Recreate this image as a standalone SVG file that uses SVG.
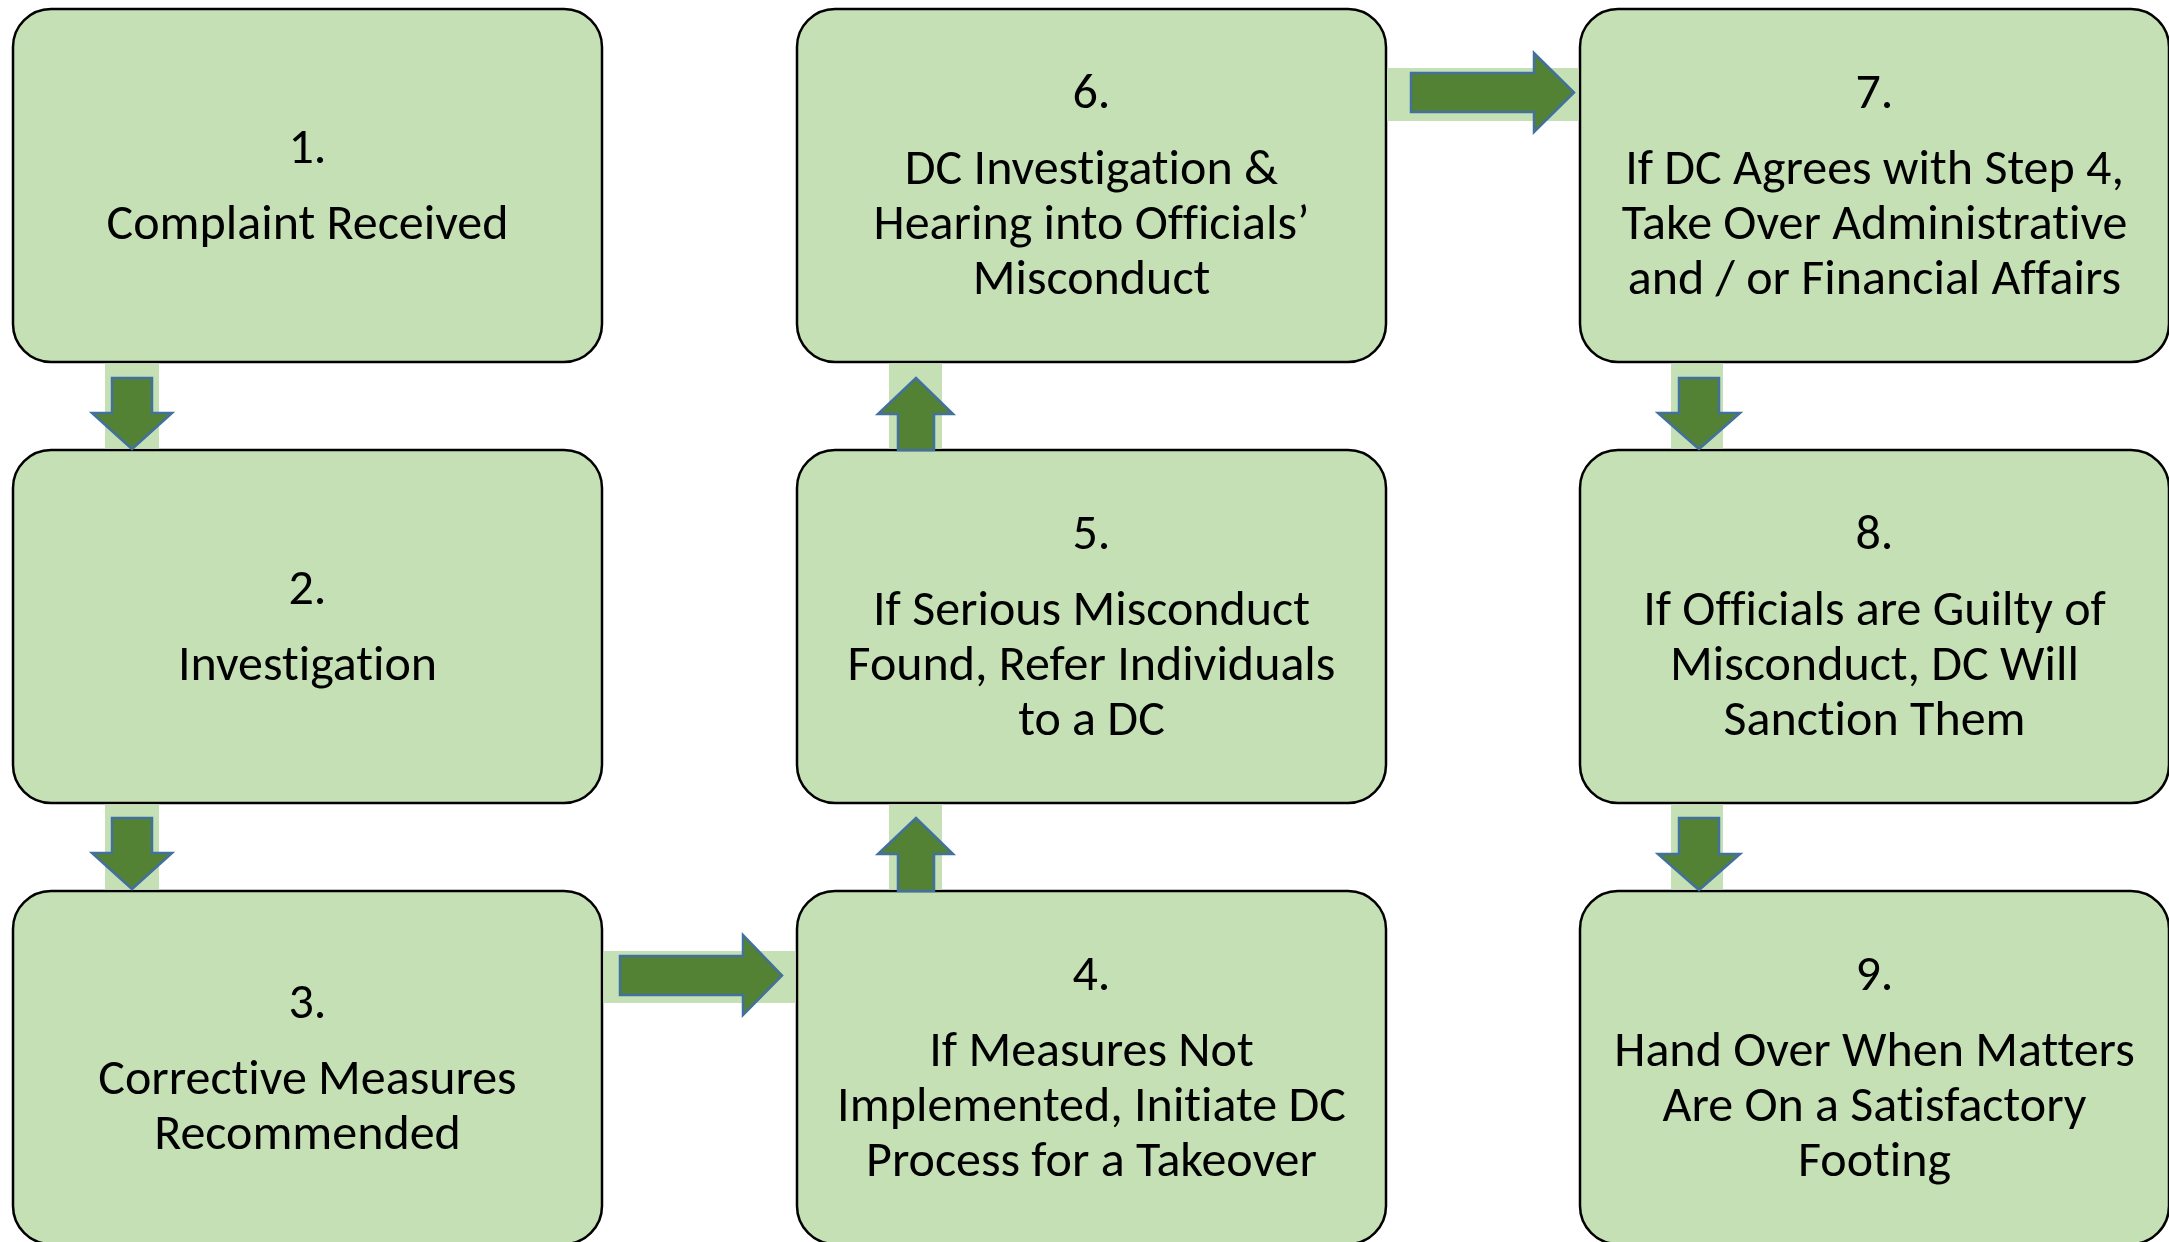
<svg xmlns="http://www.w3.org/2000/svg" width="2169" height="1242" viewBox="0 0 2169 1242">
<style>
.box{fill:#C5E0B4;stroke:#000;stroke-width:2.5}
.band{fill:#C5E0B4}
.arr{fill:#548235;stroke:#41719C;stroke-width:2.5;stroke-linejoin:miter}
text{font-family:Carlito,Lato,"Liberation Sans",sans-serif;font-size:50px;fill:#000;text-anchor:middle;font-variant-ligatures:none}
</style>
<rect width="2169" height="1242" fill="#fff"/>
<g id="nodes">
<g id="n1"><rect class="box" x="13" y="9" width="589" height="353" rx="38"/>
<text x="307.5" y="163">1.</text><text x="307.5" y="239">Complaint Received</text></g>
<g id="n2"><rect class="box" x="13" y="450" width="589" height="353" rx="38"/>
<text x="307.5" y="604">2.</text><text x="307.5" y="680">Investigation</text></g>
<g id="n3"><rect class="box" x="13" y="891" width="589" height="353" rx="38"/>
<text x="307.5" y="1017.5">3.</text><text x="307.5" y="1093.5">Corrective Measures</text><text x="307.5" y="1148.5">Recommended</text></g>
<g id="n4"><rect class="box" x="797" y="891" width="589" height="353" rx="38"/>
<text x="1091.5" y="990">4.</text><text x="1091.5" y="1066">If Measures Not</text><text x="1091.5" y="1121">Implemented, Initiate DC</text><text x="1091.5" y="1176">Process for a Takeover</text></g>
<g id="n5"><rect class="box" x="797" y="450" width="589" height="353" rx="38"/>
<text x="1091.5" y="549">5.</text><text x="1091.5" y="625">If Serious Misconduct</text><text x="1091.5" y="680">Found, Refer Individuals</text><text x="1091.5" y="735">to a DC</text></g>
<g id="n6"><rect class="box" x="797" y="9" width="589" height="353" rx="38"/>
<text x="1091.5" y="108">6.</text><text x="1091.5" y="184">DC Investigation &amp;</text><text x="1091.5" y="239">Hearing into Officials’</text><text x="1091.5" y="294">Misconduct</text></g>
<g id="n7"><rect class="box" x="1580" y="9" width="589" height="353" rx="38"/>
<text x="1874.5" y="108">7.</text><text x="1874.5" y="184">If DC Agrees with Step 4,</text><text x="1874.5" y="239">Take Over Administrative</text><text x="1874.5" y="294">and / or Financial Affairs</text></g>
<g id="n8"><rect class="box" x="1580" y="450" width="589" height="353" rx="38"/>
<text x="1874.5" y="549">8.</text><text x="1874.5" y="625">If Officials are Guilty of</text><text x="1874.5" y="680">Misconduct, DC Will</text><text x="1874.5" y="735">Sanction Them</text></g>
<g id="n9"><rect class="box" x="1580" y="891" width="589" height="353" rx="38"/>
<text x="1874.5" y="990">9.</text><text x="1874.5" y="1066">Hand Over When Matters</text><text x="1874.5" y="1121">Are On a Satisfactory</text><text x="1874.5" y="1176">Footing</text></g>
</g>
<g id="connectors">
<rect class="band" x="105" y="363.5" width="54" height="85"/>
<rect class="band" x="105" y="804.5" width="54" height="85"/>
<rect class="band" x="889" y="363.5" width="53" height="85"/>
<rect class="band" x="889" y="804.5" width="53" height="85"/>
<rect class="band" x="1671" y="363.5" width="52" height="85"/>
<rect class="band" x="1671" y="804.5" width="52" height="85"/>
<rect class="band" x="603.5" y="951" width="192" height="52"/>
<rect class="band" x="1387" y="68" width="191.5" height="53"/>
<path class="arr" d="M112,378 H152 V413 H172 L132,449 L92,413 H112 Z"/>
<path class="arr" d="M112,818 H152 V853 H172 L132,889 L92,853 H112 Z"/>
<path class="arr" d="M898,891 V854 H878 L916,818 L953,854 H934 V891 Z"/>
<path class="arr" d="M898,450 V414 H878 L916,378 L953,414 H934 V450 Z"/>
<path class="arr" d="M1679,378 H1719 V413 H1740 L1699,449 L1658,413 H1679 Z"/>
<path class="arr" d="M1679,818 H1719 V854 H1740 L1699,890 L1658,854 H1679 Z"/>
<path class="arr" d="M620,956 H743 V935 L782,975.5 L743,1015 V995 H620 Z"/>
<path class="arr" d="M1411,73 H1534 V53 L1574,92.5 L1534,132 V112 H1411 Z"/>
</g>
</svg>
